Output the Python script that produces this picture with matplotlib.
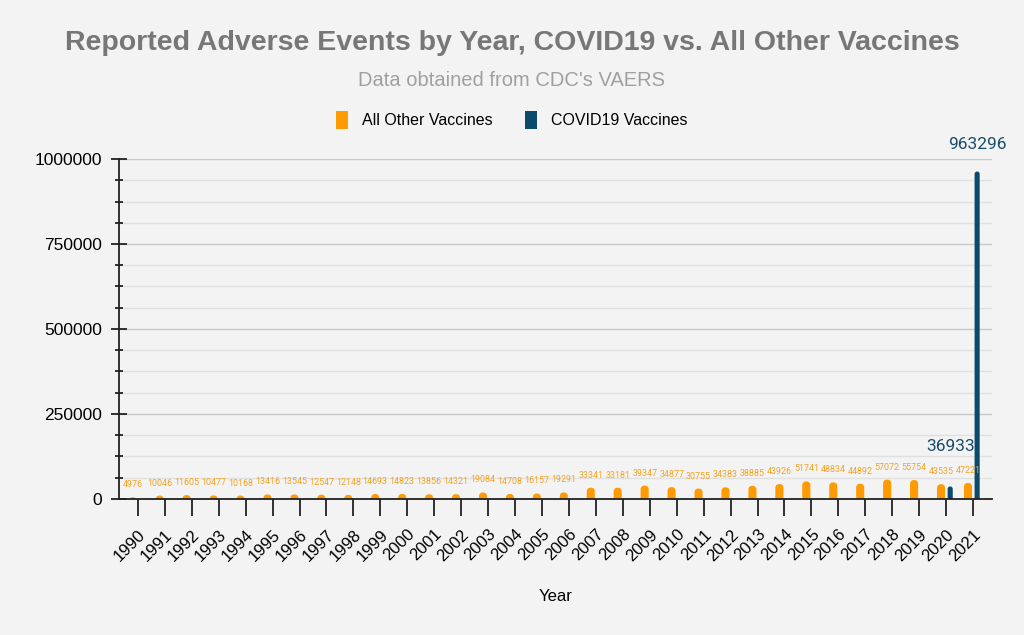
import numpy as np
import matplotlib.pyplot as plt
from matplotlib.ticker import MultipleLocator
from matplotlib.patches import FancyBboxPatch, Patch

# data
years = [str(y) for y in range(1990, 2022)]
other = [4976, 10046, 11605, 10477, 10168, 13416, 13545, 12547, 12148, 14693,
         14823, 13856, 14321, 19084, 14708, 16157, 19291, 33341, 33181, 39347,
         34877, 30755, 34383, 38885, 43926, 51741, 48834, 44892, 57072, 55754,
         43535, 47221]
covid_years = ['2020', '2021']
covid = [36933, 963296]

orange = '#ff9b00'
navy = '#0c4a6a'
bg = '#f3f3f3'

fig = plt.figure(figsize=(10.24, 6.35), dpi=100, facecolor=bg)
ax = fig.add_axes([0.1162, 0.2142, 0.8525, 0.5354], facecolor=bg)

x = np.arange(len(years))
cx = np.array([years.index(y) for y in covid_years])

ax.set_xlim(-0.7, len(years) - 0.3)
ax.set_ylim(0, 1000000)

b1 = ax.bar(x - 0.19, other, width=0.3, color=orange, zorder=3)
b2 = ax.bar(cx + 0.15, covid, width=0.19, color=navy, zorder=3)

# rounded tops: swap each bar for a pill shape whose bottom half sits below 0 (clipped)
fig.canvas.draw()
bb = ax.get_window_extent()
xpp = (ax.get_xlim()[1] - ax.get_xlim()[0]) / bb.width
ypp = (ax.get_ylim()[1] - ax.get_ylim()[0]) / bb.height
asp = ypp / xpp
for cont in (b1, b2):
    for p in cont.patches:
        w = p.get_width()
        h = p.get_height()
        r = w / 2
        pill = FancyBboxPatch((p.get_x(), -r * asp), w, h + r * asp,
                              boxstyle=f'round,pad=0,rounding_size={r}',
                              mutation_aspect=asp, facecolor=p.get_facecolor(),
                              edgecolor='none', zorder=3, clip_on=True)
        ax.add_patch(pill)
        p.set_visible(False)

# value labels
for xi, v in zip(x, other):
    ax.annotate(str(v), (xi - 0.19, v), xytext=(0, 9), textcoords='offset points',
                ha='center', va='center', fontsize=6.4, color='#f5a31f',
                family=['Roboto', 'DejaVu Sans'])
offs = [28.5, 19.5]
for xi, v, o in zip(cx, covid, offs):
    ax.annotate(str(v), (xi + 0.15, v), xytext=(0, o), textcoords='offset points',
                ha='center', va='center', fontsize=12.5, color='#1b4c69',
                family=['Roboto', 'DejaVu Sans'], annotation_clip=False)

ax.set_xticks(x)
ax.set_xticklabels(years, rotation=45, ha='right', rotation_mode='anchor',
                   fontsize=12, family='Liberation Sans')
ax.yaxis.set_major_locator(MultipleLocator(250000))
ax.yaxis.set_minor_locator(MultipleLocator(62500))
ax.set_yticks(ax.get_yticks())
ax.set_yticklabels([str(int(t)) for t in ax.get_yticks()], fontsize=12.5,
                   family='Liberation Sans')
ax.set_ylim(0, 1000000)

ax.tick_params(axis='x', direction='out', length=12, width=1.3, color='#222', pad=8)
ax.tick_params(axis='y', which='major', direction='inout', length=12, width=1.3,
               color='#222', pad=6)
ax.tick_params(axis='y', which='minor', direction='inout', length=6, width=1.3, color='#222')

ax.grid(axis='y', which='major', color='#c8c8c8', linewidth=1, zorder=0)
ax.grid(axis='y', which='minor', color='#e0e0e0', linewidth=1, zorder=0)
for s in ['top', 'right']:
    ax.spines[s].set_visible(False)
for s in ['left', 'bottom']:
    ax.spines[s].set_color('#222')
    ax.spines[s].set_linewidth(1.3)
ax.spines['bottom'].set_zorder(4)

ax.set_xlabel('Year', fontsize=12, family='Liberation Sans', labelpad=18)

fig.text(0.5, 0.932, 'Reported Adverse Events by Year, COVID19 vs. All Other Vaccines',
         ha='center', va='center', fontsize=20.5, fontweight='bold', color='#777777',
         family='Liberation Sans')
fig.text(0.5, 0.874, "Data obtained from CDC's VAERS", ha='center', va='center',
         fontsize=14.5, color='#a0a0a0', family='Liberation Sans')

handles = [Patch(facecolor=orange, label='All Other Vaccines'),
           Patch(facecolor=navy, label='COVID19 Vaccines')]
fig.legend(handles=handles, loc='center', bbox_to_anchor=(0.5, 0.811), ncol=2,
           frameon=False, handlelength=0.75, handleheight=1.3,
           columnspacing=2.0, handletextpad=0.9,
           prop={'family': 'Liberation Sans', 'size': 11.5})

fig.savefig('out.png', dpi=100, facecolor=bg)
